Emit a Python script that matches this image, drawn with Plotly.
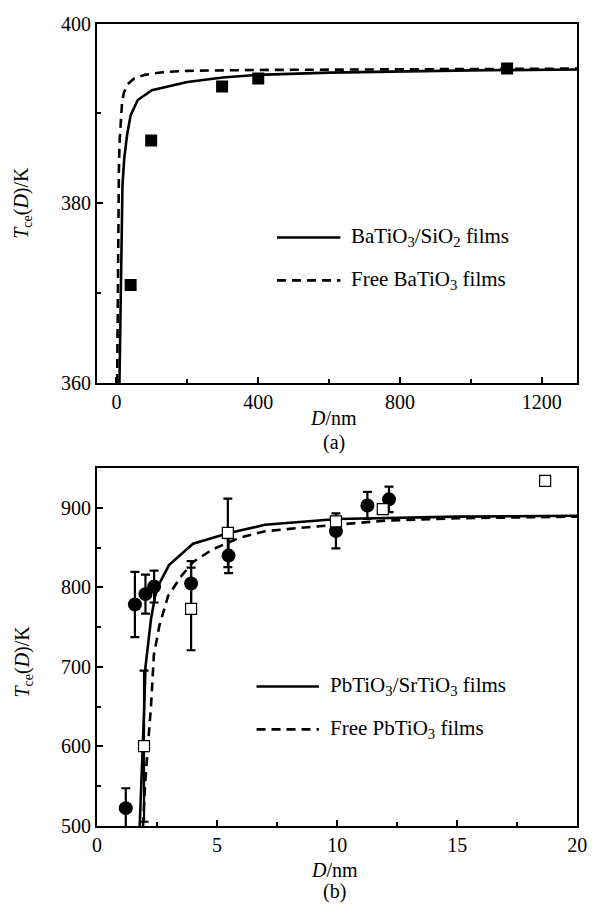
import plotly.graph_objects as go

# ---------------- panel (a): BaTiO3 films ----------------
a_meas_D = [40, 98, 298, 400, 1102]
a_meas_T = [370.9, 387.0, 393.0, 393.9, 395.0]

a_sub_D = [8.5, 10, 12, 14, 17, 22, 30, 40, 60, 100, 200, 300, 400, 600, 800, 1000, 1300]
a_sub_T = [360, 365, 372, 378, 382, 385, 387.6, 389.8, 391.5, 392.6, 393.5, 394.0, 394.3, 394.55, 394.7, 394.8, 394.9]

a_free_D = [2, 3, 4, 5.5, 7, 9, 12, 16, 21, 30, 50, 80, 130, 200, 400, 800, 1300]
a_free_T = [360, 368, 374, 380, 384, 387, 389.5, 391.3, 392.3, 393.2, 393.9, 394.3, 394.6, 394.75, 394.85, 394.95, 395.0]

# ---------------- panel (b): PbTiO3 films ----------------
b_circ_D = [1.2, 1.58, 2.02, 2.38, 3.92, 5.48, 9.95, 11.26, 12.16]
b_circ_T = [522.5, 778.5, 791.5, 801, 805, 840, 871, 903, 910.7]
b_circ_err = [25, 41, 24.5, 20, 28, 22, 22, 17, 16]

b_sq_D = [1.96, 3.92, 5.45, 9.95, 11.9, 18.66]
b_sq_T = [600.4, 773, 868.5, 883, 898.5, 934]
b_sq_err = [95, 52, 43, None, None, None]

b_sub_D = [1.78, 1.85, 1.92, 1.97, 2.02, 2.13, 2.25, 2.42, 2.6, 3.0, 4.0, 5.5, 7.0, 10, 15, 20]
b_sub_T = [500, 550, 600, 650, 700, 731, 760, 789, 805, 828, 855, 868.5, 878.7, 886, 889, 890]

b_free_D = [1.92, 2.0, 2.13, 2.25, 2.37, 2.6, 2.96, 3.48, 4.0, 4.83, 5.9, 7.0, 8.5, 10, 12, 15, 20]
b_free_T = [500, 550, 604, 650, 715, 752, 789, 813, 832, 848, 862, 870.6, 875, 879, 884, 887, 889]

legend_a = ["BaTiO<sub>3</sub>/SiO<sub>2</sub> films", "Free BaTiO<sub>3</sub> films"]
legend_b = ["PbTiO<sub>3</sub>/SrTiO<sub>3</sub> films", "Free PbTiO<sub>3</sub> films"]

W, H = 600, 920
FONT = "Times New Roman, Liberation Serif, Times, serif"
DASH = "9px,6px"
LW = 2.6


def px(x):
    return x / W


def py(y):
    return 1 - y / H


fig = go.Figure()

# panel (a)
fig.add_trace(go.Scatter(x=a_sub_D, y=a_sub_T, mode="lines", line=dict(color="black", width=LW),
                         xaxis="x", yaxis="y", showlegend=False))
fig.add_trace(go.Scatter(x=a_free_D, y=a_free_T, mode="lines", line=dict(color="black", width=LW, dash=DASH),
                         xaxis="x", yaxis="y", showlegend=False))
fig.add_trace(go.Scatter(x=a_meas_D, y=a_meas_T, mode="markers",
                         marker=dict(symbol="square", size=12, color="black"),
                         xaxis="x", yaxis="y", showlegend=False))

# panel (b)
fig.add_trace(go.Scatter(x=b_sub_D, y=b_sub_T, mode="lines", line=dict(color="black", width=LW),
                         xaxis="x2", yaxis="y2", showlegend=False))
fig.add_trace(go.Scatter(x=b_free_D, y=b_free_T, mode="lines", line=dict(color="black", width=LW, dash=DASH),
                         xaxis="x2", yaxis="y2", showlegend=False))
fig.add_trace(go.Scatter(x=b_circ_D, y=b_circ_T, mode="markers",
                         marker=dict(symbol="circle", size=14, color="black"),
                         error_y=dict(type="data", array=b_circ_err, visible=True, color="black",
                                      thickness=2.2, width=4.5),
                         xaxis="x2", yaxis="y2", showlegend=False))

sq_e = [i for i, e in enumerate(b_sq_err) if e is not None]
sq_n = [i for i, e in enumerate(b_sq_err) if e is None]
fig.add_trace(go.Scatter(x=[b_sq_D[i] for i in sq_e], y=[b_sq_T[i] for i in sq_e], mode="markers",
                         marker=dict(symbol="square", size=11, color="white", line=dict(color="black", width=1.2)),
                         error_y=dict(type="data", array=[b_sq_err[i] for i in sq_e], visible=True,
                                      color="black", thickness=2.2, width=4.5),
                         xaxis="x2", yaxis="y2", showlegend=False))
fig.add_trace(go.Scatter(x=[b_sq_D[i] for i in sq_n], y=[b_sq_T[i] for i in sq_n], mode="markers",
                         marker=dict(symbol="square", size=11, color="white", line=dict(color="black", width=1.2)),
                         xaxis="x2", yaxis="y2", showlegend=False))

axis_common = dict(showline=True, linecolor="black", linewidth=2, mirror=True, ticks="inside",
                   ticklen=6, tickwidth=1.5, tickcolor="black", showgrid=False, zeroline=False,
                   tickfont=dict(family=FONT, size=20, color="black"))
minor_common = dict(ticks="inside", ticklen=4, tickwidth=1.5, tickcolor="black", showgrid=False)

xdom = [px(94.3), px(587)]
fig.update_layout(
    width=W, height=H, margin=dict(l=0, r=0, t=0, b=0),
    paper_bgcolor="white", plot_bgcolor="white",
    font=dict(family=FONT, size=20, color="black"),
    xaxis=dict(domain=xdom, range=[-55, 1300], tickvals=[0, 400, 800, 1200],
               minor=dict(dtick=200, tick0=0, **minor_common), anchor="y", **axis_common),
    yaxis=dict(domain=[py(381), py(13)], range=[360, 400], dtick=20,
               minor=dict(dtick=10, tick0=360, **minor_common), anchor="x", **axis_common),
    xaxis2=dict(domain=xdom, range=[0, 20], dtick=5,
                minor=dict(dtick=2.5, tick0=0, **minor_common), anchor="y2", **axis_common),
    yaxis2=dict(domain=[py(835), py(468.3)], range=[500, 950], tickvals=[500, 600, 700, 800, 900],
                minor=dict(dtick=50, tick0=500, **minor_common), anchor="x2", **axis_common),
)

# legend samples and axis titles
shapes = []
annotations = []


def txt(x, y, s, size=20, **kw):
    d = dict(x=px(x), y=py(y), xref="paper", yref="paper", text=s, showarrow=False,
             font=dict(family=FONT, size=size, color="black"))
    d.update(kw)
    annotations.append(d)


for (x0, x1, xt, ys, labels) in [(279, 344, 353, (232, 276), legend_a),
                                 (258, 322, 331, (692, 736), legend_b)]:
    for k, (yy, lab) in enumerate(zip(ys, labels)):
        line = dict(color="black", width=LW)
        if k == 1:
            line["dash"] = DASH
        shapes.append(dict(type="line", xref="paper", yref="paper", x0=px(x0), x1=px(x1),
                           y0=py(yy), y1=py(yy), line=line))
        txt(xt, yy, lab, size=21, xanchor="left", yanchor="middle")

ytitle = "<i>T</i><sub>ce</sub>(<i>D</i>)/K"
txt(18, 197, ytitle, textangle=-90, xanchor="center", yanchor="middle")
txt(18, 667, ytitle, textangle=-90, xanchor="center", yanchor="middle")
txt(337, 417, "<i>D</i>/nm", xanchor="center", yanchor="middle")
txt(337, 442, "(a)", xanchor="center", yanchor="middle")
txt(338, 880, "<i>D</i>/nm", xanchor="center", yanchor="middle")
txt(338, 902, "(b)", xanchor="center", yanchor="middle")

fig.update_layout(shapes=shapes, annotations=annotations)
fig.write_html("out.html")
